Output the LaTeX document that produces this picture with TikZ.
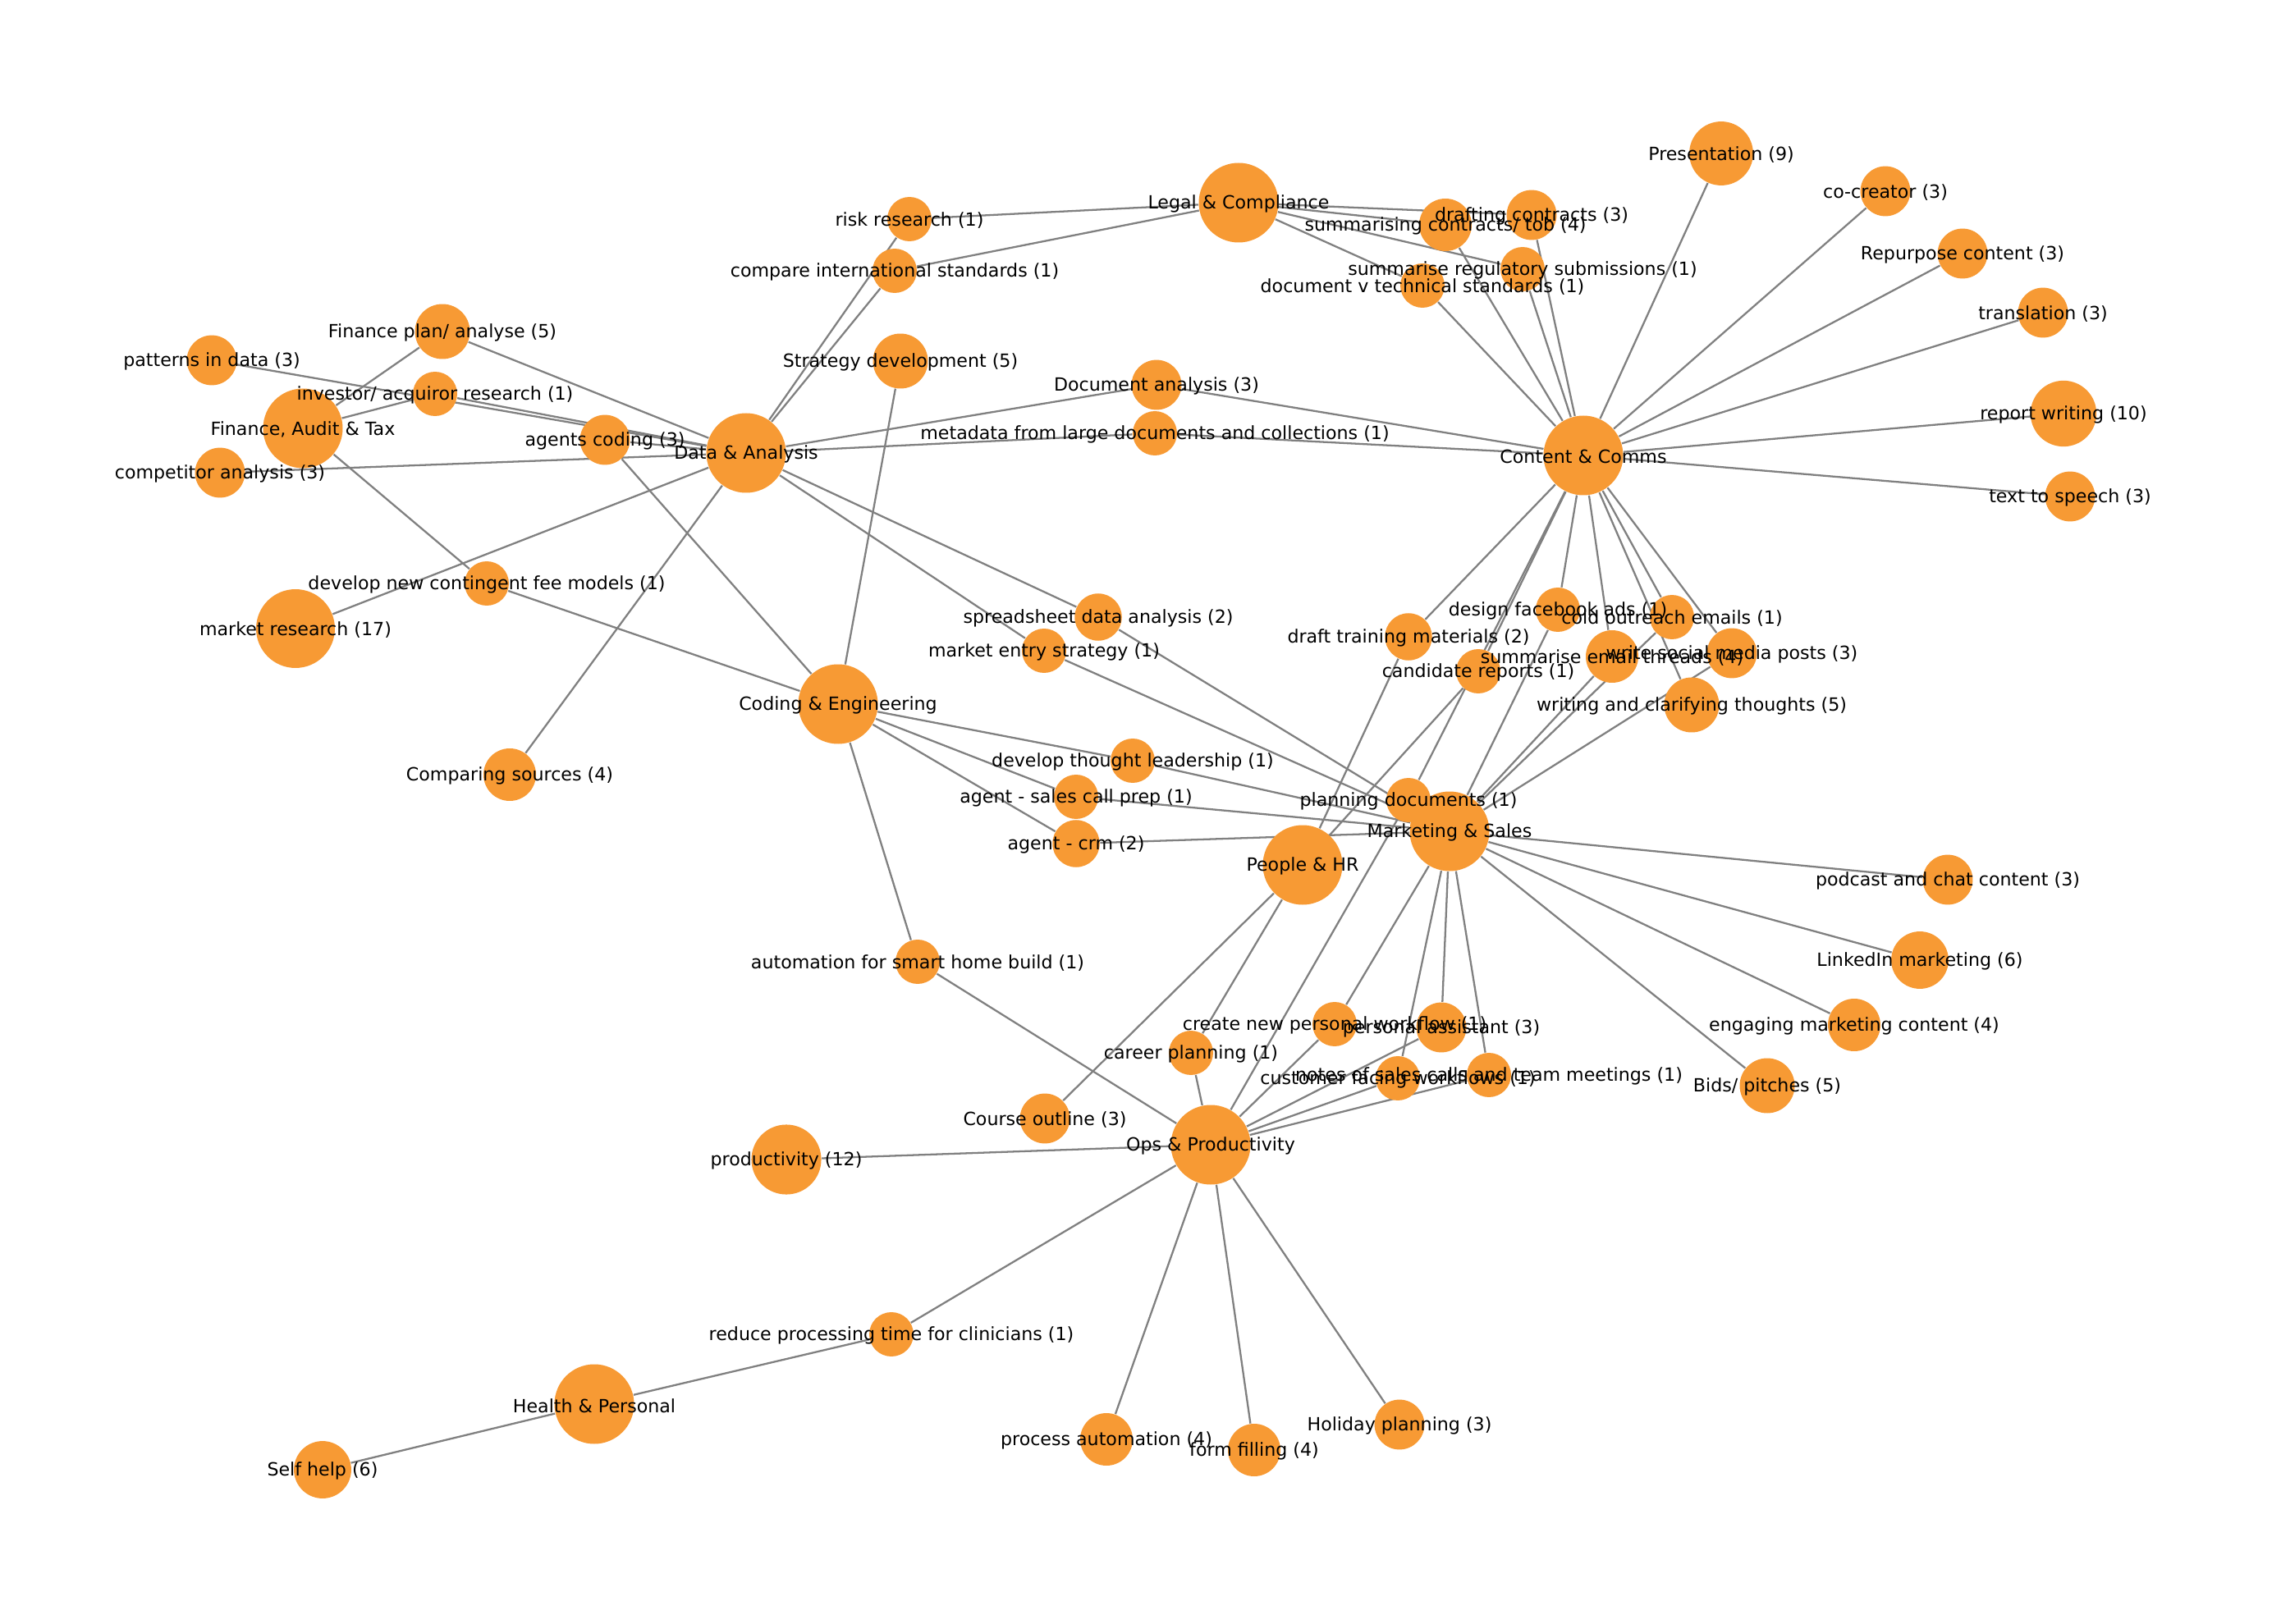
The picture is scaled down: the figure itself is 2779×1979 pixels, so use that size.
\documentclass[tikz,border=0pt]{standalone}
\usepackage{fontspec}
\setmainfont{DejaVu Sans}
\pgfdeclarelayer{background}
\pgfdeclarelayer{foreground}
\pgfsetlayers{background,main,foreground}
\definecolor{nodeorange}{HTML}{F79A34}
\definecolor{edgegray}{HTML}{808080}

\begin{document}
\begin{tikzpicture}[x=0.1mm, y=-0.1mm,
		hub/.style={circle, fill=nodeorange, inner sep=0pt, minimum size=9.7mm},
		usecase/.style={circle, fill=nodeorange, inner sep=0pt, minimum size={2*sqrt(6.3+0.984*#1)*1mm}},
		tag/.style={inner sep=0pt, yshift=-0.18mm, font=\fontsize{6.3}{7.5}\selectfont},
		link/.style={draw=edgegray, line width=0.65pt}]
		\useasboundingbox (0,0) rectangle (2779,1979);
		% categories
		\foreach \nm/\x/\y/\txt in {legal/1509/247/{Legal \& Compliance}, comms/1929/555/{Content \& Comms},
			data/909/552/{Data \& Analysis}, finance/369/522/{Finance, Audit \& Tax},
			coding/1021/858/{Coding \& Engineering}, sales/1766/1013/{Marketing \& Sales},
			people/1587/1054/{People \& HR}, ops/1475/1395/{Ops \& Productivity},
			health/724/1711/{Health \& Personal}} {
			\node[hub] (\nm) at (\x,\y) {};
			\begin{pgfonlayer}{foreground}\node[tag] at (\nm) {\txt};\end{pgfonlayer}
		}
		% use cases, sized by count
		\foreach \nm/\x/\y/\cnt/\txt in {
			risk/1108/267/1/{risk research (1)}, intlstd/1090/330/1/{compare international standards (1)},
			drafting/1866/262/3/{drafting contracts (3)}, sumcontracts/1761/274/4/{summarising contracts/ tob (4)},
			regsub/1855/328/1/{summarise regulatory submissions (1)}, techstd/1733/348/1/{document v technical standards (1)},
			presentation/2097/187/9/{Presentation (9)}, cocreator/2297/233/3/{co-creator (3)},
			repurpose/2391/309/3/{Repurpose content (3)}, translation/2489/381/3/{translation (3)},
			reportwriting/2514/504/10/{report writing (10)}, tts/2522/605/3/{text to speech (3)},
			docanalysis/1409/469/3/{Document analysis (3)}, metadata/1407/528/1/{metadata from large documents and collections (1)},
			strategy/1097/440/5/{Strategy development (5)}, finplan/539/404/5/{Finance plan/ analyse (5)},
			patterns/258/439/3/{patterns in data (3)}, investor/530/480/1/{investor/ acquiror research (1)},
			competitor/268/576/3/{competitor analysis (3)}, agents/737/536/3/{agents coding (3)},
			marketresearch/360/766/17/{market research (17)}, feemodels/593/711/1/{develop new contingent fee models (1)},
			comparing/621/944/4/{Comparing sources (4)}, spreadsheet/1338/752/2/{spreadsheet data analysis (2)},
			marketentry/1272/793/1/{market entry strategy (1)}, thought/1380/927/1/{develop thought leadership (1)},
			salescall/1311/971/1/{agent - sales call prep (1)}, crm/1311/1028/2/{agent - crm (2)},
			smarthome/1118/1172/1/{automation for smart home build (1)}, planning/1716/975/1/{planning documents (1)},
			training/1716/776/2/{draft training materials (2)}, candidate/1801/818/1/{candidate reports (1)},
			facebook/1898/743/1/{design facebook ads (1)}, coldemail/2037/752/1/{cold outreach emails (1)},
			emailthreads/1964/800/4/{summarise email threads (4)}, socialposts/2110/796/3/{write social media posts (3)},
			clarifying/2061/859/5/{writing and clarifying thoughts (5)}, podcast/2373/1072/3/{podcast and chat content (3)},
			linkedin/2339/1170/6/{LinkedIn marketing (6)}, engaging/2259/1249/4/{engaging marketing content (4)},
			bids/2153/1323/5/{Bids/ pitches (5)}, career/1451/1283/1/{career planning (1)},
			workflow/1626/1248/1/{create new personal workflow (1)}, assistant/1756/1252/3/{personal assistant (3)},
			customer/1703/1314/1/{customer facing workflows (1)}, notes/1814/1310/1/{notes of sales calls and team meetings (1)},
			course/1273/1363/3/{Course outline (3)}, productivity/958/1413/12/{productivity (12)},
			clinicians/1086/1626/1/{reduce processing time for clinicians (1)}, selfhelp/393/1791/6/{Self help (6)},
			processauto/1348/1754/4/{process automation (4)}, formfilling/1528/1767/4/{form filling (4)},
			holiday/1705/1736/3/{Holiday planning (3)}} {
			\node[usecase=\cnt] (\nm) at (\x,\y) {};
			\begin{pgfonlayer}{foreground}\node[tag] at (\nm) {\txt};\end{pgfonlayer}
		}
		% links
		\begin{pgfonlayer}{background}
		\foreach \a/\b in {legal/risk, legal/intlstd, legal/drafting, legal/sumcontracts, legal/regsub, legal/techstd,
			data/risk, data/intlstd, data/finplan, data/patterns, data/investor, data/competitor, data/agents,
			data/marketresearch, data/comparing, data/docanalysis, data/metadata, data/spreadsheet, data/marketentry,
			finance/finplan, finance/investor, finance/feemodels,
			coding/agents, coding/feemodels, coding/strategy, coding/smarthome, coding/thought, coding/salescall, coding/crm,
			comms/drafting, comms/sumcontracts, comms/regsub, comms/techstd, comms/presentation, comms/cocreator,
			comms/repurpose, comms/translation, comms/reportwriting, comms/tts, comms/docanalysis, comms/metadata,
			comms/training, comms/candidate, comms/planning, comms/facebook, comms/emailthreads, comms/coldemail,
			comms/socialposts, comms/clarifying,
			people/training, people/candidate, people/course, people/career,
			sales/facebook, sales/emailthreads, sales/coldemail, sales/socialposts, sales/thought, sales/salescall,
			sales/crm, sales/marketentry, sales/spreadsheet, sales/podcast, sales/linkedin, sales/engaging, sales/bids,
			sales/workflow, sales/assistant, sales/customer, sales/notes,
			ops/productivity, ops/clinicians, ops/processauto, ops/formfilling, ops/holiday, ops/smarthome, ops/career,
			ops/planning, ops/workflow, ops/assistant, ops/customer, ops/notes,
			health/clinicians, health/selfhelp} {
			\draw[link] (\a) -- (\b);
		}
		\end{pgfonlayer}
	\end{tikzpicture}
\end{document}
